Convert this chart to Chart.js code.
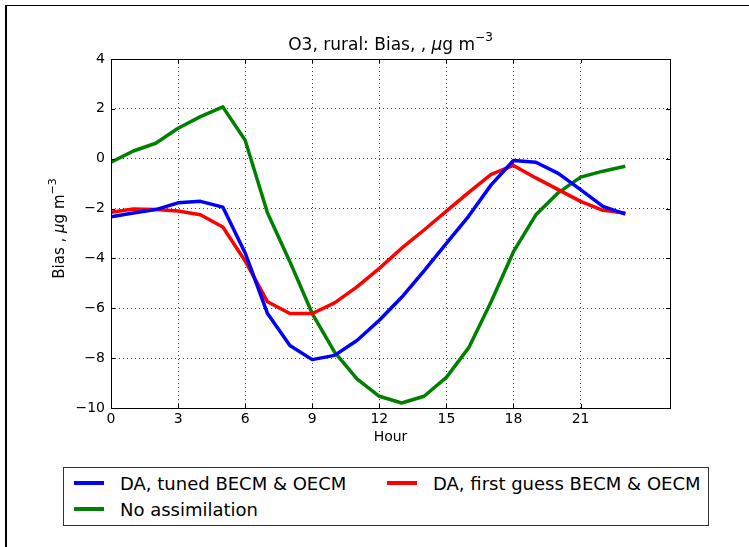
<!DOCTYPE html>
<html><head><meta charset="utf-8">
<script src="https://cdn.jsdelivr.net/npm/chart.js@4.4.0/dist/chart.umd.min.js"></script>
<style>
html,body{margin:0;padding:0;background:#fff;}
#wrap{position:relative;width:749px;height:547px;overflow:hidden;background:#fff;}
#frame{position:absolute;left:5px;top:5px;width:760px;height:560px;border-left:2px solid #000;border-top:1px solid #000;}
canvas{position:absolute;left:0;top:0;}
#legend{position:absolute;left:63px;top:467px;width:646px;height:59px;border:1px solid #333;box-sizing:border-box;font-family:'DejaVu Sans';font-size:18px;color:#000;background:#fff;}
.item{position:absolute;display:flex;align-items:center;white-space:nowrap;height:20px;}
.swatch{width:30px;height:4px;margin-right:16px;}
</style></head>
<body>
<div id="wrap">
<div id="frame"></div>
<canvas id="c" width="749" height="547"></canvas>
<div id="legend"></div>
</div>
<script>
// ---- data ----
const hours = [0,1,2,3,4,5,6,7,8,9,10,11,12,13,14,15,16,17,18,19,20,21,22,23];
const tunedBias = [-2.33,-2.18,-2.04,-1.77,-1.71,-1.94,-3.78,-6.21,-7.49,-8.06,-7.89,-7.29,-6.48,-5.56,-4.5,-3.4,-2.3,-1.05,-0.07,-0.14,-0.59,-1.24,-1.91,-2.22];
const firstGuessBias = [-2.15,-2.02,-2.04,-2.1,-2.25,-2.74,-4.1,-5.74,-6.21,-6.21,-5.78,-5.14,-4.4,-3.59,-2.86,-2.1,-1.35,-0.63,-0.27,-0.77,-1.24,-1.71,-2.07,-2.18];
const noAssimBias = [-0.14,0.31,0.62,1.22,1.69,2.08,0.74,-2.18,-4.13,-6.21,-7.76,-8.83,-9.53,-9.8,-9.53,-8.77,-7.58,-5.74,-3.73,-2.25,-1.37,-0.74,-0.5,-0.3];
const seriesNames = ['DA, tuned BECM & OECM','DA, first guess BECM & OECM','No assimilation'];
const xTicks = [0,3,6,9,12,15,18,21];
const yTicks = [-10,-8,-6,-4,-2,0,2,4];
const xRange = [0,25];
const yRange = [-10,4];
const titleParts = [{t:'O3, rural: Bias, , '},{t:'\u03bc',i:true},{t:'g m'},{t:'\u22123',s:true}];
const yTitleParts = [{t:'Bias , '},{t:'\u03bc',i:true},{t:'g m'},{t:'\u22123',s:true}];
const xTitle = 'Hour';

const FONT = "'DejaVu Sans'";
function fmt(v){ return v<0 ? '\u2212'+Math.abs(v) : String(v); }
function pts(arr){ return hours.map((h,i)=>({x:h,y:arr[i]})); }

function drawRich(ctx, parts, size, cx, cy, rot){
  ctx.save();
  ctx.translate(cx, cy);
  if (rot) ctx.rotate(rot);
  ctx.fillStyle = '#000';
  ctx.textBaseline = 'middle';
  ctx.textAlign = 'left';
  const fontOf = p => (p.i?'italic ':'') + (p.s? Math.round(size*0.7) : size) + 'px ' + FONT;
  let w = 0;
  parts.forEach(p=>{ ctx.font = fontOf(p); p.w = ctx.measureText(p.t).width; w += p.w; });
  let x = -w/2;
  parts.forEach(p=>{ ctx.font = fontOf(p); ctx.fillText(p.t, x, p.s ? -size*0.45 : 0); x += p.w; });
  ctx.restore();
}

const decor = {
  id:'decor',
  afterDraw(chart){
    const ctx = chart.ctx, a = chart.chartArea;
    const xs = chart.scales.x, ys = chart.scales.y;
    ctx.save();
    ctx.strokeStyle = '#000'; ctx.lineWidth = 1;
    ctx.strokeRect(Math.round(a.left)+0.5, Math.round(a.top)+0.5, Math.round(a.right-a.left), Math.round(a.bottom-a.top));
    ctx.beginPath();
    xTicks.forEach(v=>{
      const px = Math.round(xs.getPixelForValue(v))+0.5;
      ctx.moveTo(px, a.bottom); ctx.lineTo(px, a.bottom-4);
      ctx.moveTo(px, a.top); ctx.lineTo(px, a.top+4);
    });
    yTicks.forEach(v=>{
      const py = Math.round(ys.getPixelForValue(v))+0.5;
      ctx.moveTo(a.left, py); ctx.lineTo(a.left+4, py);
      ctx.moveTo(a.right, py); ctx.lineTo(a.right-4, py);
    });
    ctx.stroke();
    ctx.restore();
    const cx = (a.left + a.right)/2;
    drawRich(ctx, titleParts, 17, cx, 46, 0);
    drawRich(ctx, yTitleParts, 15, 60, (a.top+a.bottom)/2 - 5, -Math.PI/2);
    drawRich(ctx, [{t:xTitle}], 14, cx, 437, 0);
  }
};

const colors = ['#0000ff','#ff0000','#008000'];
const chart = new Chart(document.getElementById('c'), {
  type:'line',
  data:{ datasets:[
    {label:seriesNames[0], data:pts(tunedBias), borderColor:colors[0], backgroundColor:colors[0]},
    {label:seriesNames[1], data:pts(firstGuessBias), borderColor:colors[1], backgroundColor:colors[1]},
    {label:seriesNames[2], data:pts(noAssimBias), borderColor:colors[2], backgroundColor:colors[2]}
  ]},
  options:{
    responsive:false, animation:false, devicePixelRatio:1,
    layout:{padding:{top:59,right:79,left:0,bottom:0}},
    elements:{line:{borderWidth:3.5,tension:0,borderJoinStyle:'round',borderCapStyle:'butt'},point:{radius:0,hoverRadius:0}},
    plugins:{legend:{display:false},title:{display:false},tooltip:{enabled:false}},
    scales:{
      x:{type:'linear',min:xRange[0],max:xRange[1],
        afterBuildTicks:s=>{s.ticks = xTicks.map(v=>({value:v}));},
        afterFit:s=>{s.height = 547-408;},
        grid:{color:'rgba(0,0,0,0.75)',lineWidth:1,drawTicks:false},
        border:{display:false,dash:[1,3]},
        ticks:{padding:3,color:'#000',font:{family:FONT,size:14},maxRotation:0,autoSkip:false,callback:v=>fmt(v)}
      },
      y:{type:'linear',min:yRange[0],max:yRange[1],
        afterBuildTicks:s=>{s.ticks = yTicks.map(v=>({value:v}));},
        afterFit:s=>{s.width = 111;},
        grid:{color:'rgba(0,0,0,0.75)',lineWidth:1,drawTicks:false},
        border:{display:false,dash:[1,3]},
        ticks:{padding:6,color:'#000',font:{family:FONT,size:14},autoSkip:false,callback:v=>fmt(v)}
      }
    }
  },
  plugins:[decor]
});

// HTML legend built from the datasets
const lg = document.getElementById('legend');
const slots = [{l:10,t:5},{l:323,t:5},{l:10,t:31}];
chart.data.datasets.forEach((d,i)=>{
  const it = document.createElement('div');
  it.className='item'; it.style.left=slots[i].l+'px'; it.style.top=slots[i].t+'px';
  const sw = document.createElement('span'); sw.className='swatch'; sw.style.background=d.borderColor;
  const tx = document.createElement('span'); tx.textContent=d.label;
  it.appendChild(sw); it.appendChild(tx); lg.appendChild(it);
});
</script>
</body></html>
